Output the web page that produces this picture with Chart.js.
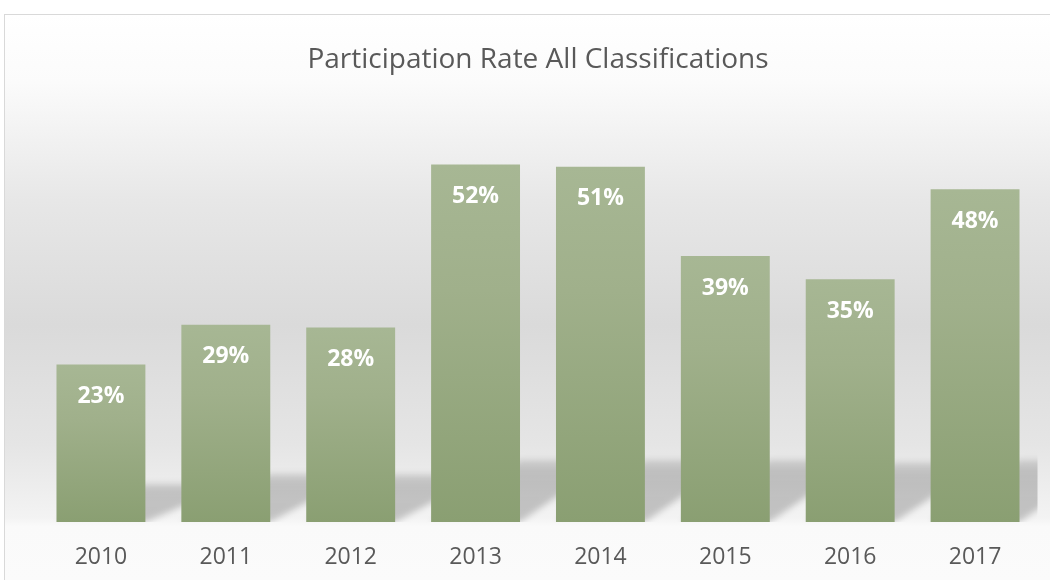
<!DOCTYPE html>
<html>
<head>
<meta charset="utf-8">
<script src="https://cdn.jsdelivr.net/npm/chart.js@4"></script>
<style>
html,body{margin:0;padding:0;background:#ffffff;}
canvas{display:block;}
</style>
</head>
<body>
<canvas id="c" width="1050" height="580"></canvas>
<script>
const title = "Participation Rate All Classifications";
const years = ["2010","2011","2012","2013","2014","2015","2016","2017"];
const rates = [22.9, 28.7, 28.3, 52.0, 51.7, 38.7, 35.3, 48.4];
const rateLabels = ["23%","29%","28%","52%","51%","39%","35%","48%"];

const FONT = "'Open Sans', 'Noto Sans', sans-serif";

const bgPlugin = {
  id: 'bg',
  beforeDraw(chart) {
    const ctx = chart.ctx;
    ctx.save();
    ctx.fillStyle = '#ffffff';
    ctx.fillRect(0, 0, chart.width, chart.height);
    const g = ctx.createLinearGradient(0, 14, 0, 580);
    g.addColorStop(0.00, '#ffffff');
    g.addColorStop(0.12, '#fbfbfb');
    g.addColorStop(0.33, '#e7e7e7');
    g.addColorStop(0.55, '#dadada');
    g.addColorStop(0.76, '#e5e5e5');
    g.addColorStop(0.89, '#f3f3f3');
    g.addColorStop(0.905, '#fafafa');
    g.addColorStop(1.00, '#fbfbfb');
    ctx.fillStyle = g;
    ctx.fillRect(4.5, 14.5, chart.width, chart.height);
    ctx.strokeStyle = '#d9d9d9';
    ctx.lineWidth = 1;
    ctx.strokeRect(4.5, 14.5, chart.width + 10, chart.height + 10);
    ctx.restore();
  }
};

const shadowPlugin = {
  id: 'shadows',
  beforeDatasetsDraw(chart) {
    const ctx = chart.ctx;
    const meta = chart.getDatasetMeta(0);
    const a = chart.chartArea;
    ctx.save();
    ctx.beginPath();
    ctx.rect(a.left, a.top, a.right - a.left, a.bottom - a.top);
    ctx.clip();
    ctx.filter = 'blur(3px)';
    meta.data.forEach(el => {
      const w = el.width;
      const xL = el.x - w / 2, xR = el.x + w / 2;
      const base = el.base;
      const h = base - el.y;
      const dy = Math.min(0.245 * h, 62);
      const dx = w;
      const g = ctx.createLinearGradient(0, base, 0, base - dy);
      g.addColorStop(0, 'rgba(0,0,0,0.20)');
      g.addColorStop(0.8, 'rgba(0,0,0,0.19)');
      g.addColorStop(1, 'rgba(0,0,0,0.12)');
      ctx.fillStyle = g;
      ctx.beginPath();
      ctx.moveTo(xL, base);
      ctx.lineTo(xR, base);
      ctx.lineTo(xR + dx, base - dy);
      ctx.lineTo(xL + dx, base - dy);
      ctx.closePath();
      ctx.fill();
    });
    ctx.restore();
  }
};

const labelPlugin = {
  id: 'barLabels',
  afterDatasetsDraw(chart) {
    const ctx = chart.ctx;
    const meta = chart.getDatasetMeta(0);
    ctx.save();
    ctx.font = "bold 23px " + FONT;
    ctx.fillStyle = '#ffffff';
    ctx.textAlign = 'center';
    ctx.textBaseline = 'middle';
    meta.data.forEach((el, i) => {
      ctx.fillText(rateLabels[i], el.x, el.y + 32);
    });
    ctx.restore();
  }
};

new Chart(document.getElementById('c'), {
  type: 'bar',
  data: {
    labels: years,
    datasets: [{
      data: rates,
      borderWidth: 0,
      backgroundColor(context) {
        const chart = context.chart;
        if (!chart.chartArea) return '#98ab82';
        const y = chart.scales.y;
        const top = y.getPixelForValue(rates[context.dataIndex]);
        const base = y.getPixelForValue(0);
        const g = chart.ctx.createLinearGradient(0, top, 0, base);
        g.addColorStop(0, '#a7b794');
        g.addColorStop(0.35, '#a0b08b');
        g.addColorStop(1, '#8a9f72');
        return g;
      },
      categoryPercentage: 1.0,
      barPercentage: 0.712
    }]
  },
  options: {
    responsive: false,
    animation: false,
    devicePixelRatio: 1,
    layout: { padding: { left: 38.5, right: 12.5, top: 0, bottom: 0 } },
    plugins: {
      legend: { display: false },
      tooltip: { enabled: false },
      title: {
        display: true,
        text: title,
        color: '#595959',
        font: { family: FONT, size: 28, weight: '400' },
        padding: { top: 43, bottom: 33 }
      }
    },
    scales: {
      x: {
        grid: { display: false },
        border: { display: false },
        ticks: { color: '#595959', font: { family: FONT, size: 23 }, padding: 14 },
        afterFit(scale) { scale.height = 58; }
      },
      y: {
        display: false,
        min: 0,
        max: 60
      }
    }
  },
  plugins: [bgPlugin, shadowPlugin, labelPlugin]
});
</script>
</body>
</html>
